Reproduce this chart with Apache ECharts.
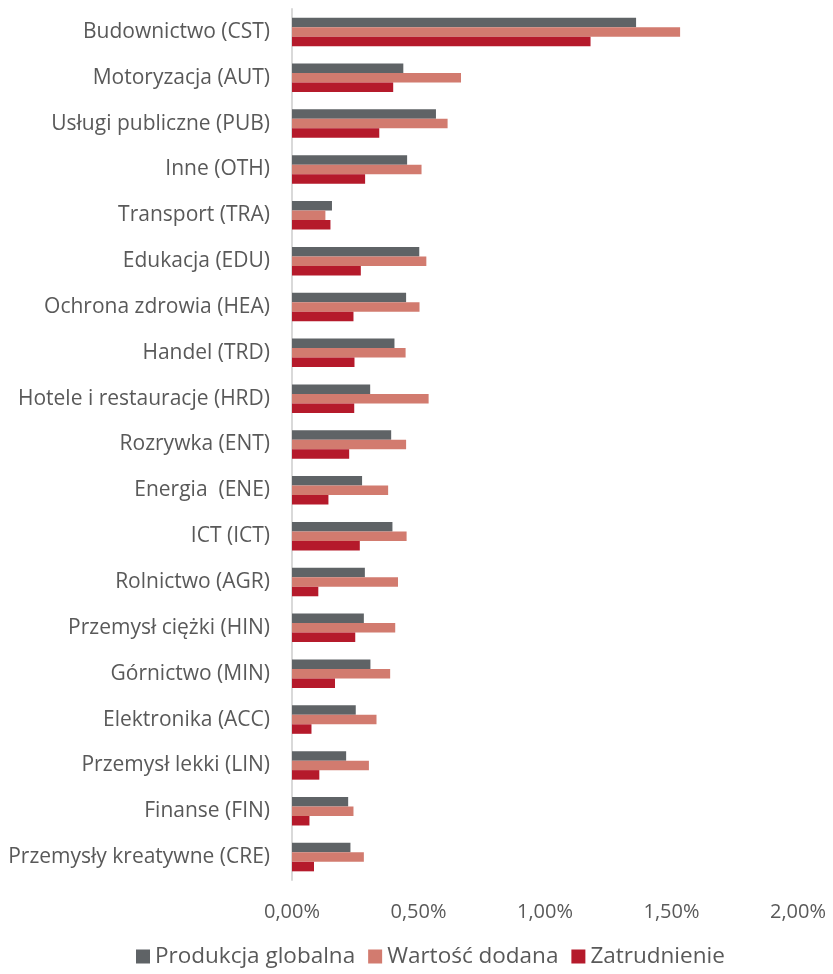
<!DOCTYPE html>
<html><head><meta charset="utf-8">
<script src="https://cdn.jsdelivr.net/npm/echarts@6/dist/echarts.min.js"></script>
<style>html,body{margin:0;padding:0;background:#fff}#c{width:833px;height:974px}</style>
</head><body><div id="c"></div>
<script>
const categories = ["Budownictwo (CST)","Motoryzacja (AUT)","Usługi publiczne (PUB)","Inne (OTH)","Transport (TRA)","Edukacja (EDU)","Ochrona zdrowia (HEA)","Handel (TRD)","Hotele i restauracje (HRD)","Rozrywka (ENT)","Energia  (ENE)","ICT (ICT)","Rolnictwo (AGR)","Przemysł ciężki (HIN)","Górnictwo (MIN)","Elektronika (ACC)","Przemysł lekki (LIN)","Finanse (FIN)","Przemysły kreatywne (CRE)"];
const produkcja = [1.36,0.44,0.569,0.455,0.158,0.503,0.451,0.405,0.309,0.392,0.277,0.397,0.288,0.284,0.310,0.252,0.214,0.222,0.231];
const wartosc = [1.534,0.668,0.615,0.512,0.132,0.531,0.504,0.449,0.540,0.451,0.380,0.453,0.419,0.408,0.388,0.334,0.304,0.243,0.284];
const zatrudnienie = [1.18,0.40,0.345,0.289,0.152,0.272,0.243,0.247,0.246,0.226,0.144,0.268,0.104,0.25,0.170,0.077,0.108,0.069,0.087];
const seriesNames = ["Produkcja globalna","Wartość dodana","Zatrudnienie"];
const colors = ["#5f6366","#d27b6f","#b51a2b"];
const font = "'Open Sans', sans-serif";
const chart = echarts.init(document.getElementById('c'));
const mk = (name, data, i) => ({name, type:'bar', data, barWidth:9.5, barGap:'0%', barCategoryGap:'36%', itemStyle:{color:colors[i]}});
chart.setOption({
  animation:false,
  grid:{left:292,right:35,top:9,bottom:94,containLabel:false},
  legend:{bottom:1,left:131,itemWidth:14,itemHeight:14,itemGap:13,icon:'rect',
    textStyle:{fontFamily:font,fontSize:22.5,color:'#595959'},data:seriesNames},
  xAxis:{type:'value',min:0,max:2,interval:0.5,
    axisLine:{show:false},axisTick:{show:false},splitLine:{show:false},
    axisLabel:{margin:22,fontFamily:font,fontSize:20,color:'#595959',formatter:v=>v.toFixed(2).replace('.',',')+'%'}},
  yAxis:{type:'category',inverse:true,data:categories,
    axisLine:{show:true,lineStyle:{color:'#d9d9d9',width:2}},axisTick:{show:false},
    axisLabel:{margin:22,fontFamily:font,fontSize:21,color:'#595959'}},
  series:[mk(seriesNames[0],produkcja,0),mk(seriesNames[1],wartosc,1),mk(seriesNames[2],zatrudnienie,2)]
});
</script></body></html>
